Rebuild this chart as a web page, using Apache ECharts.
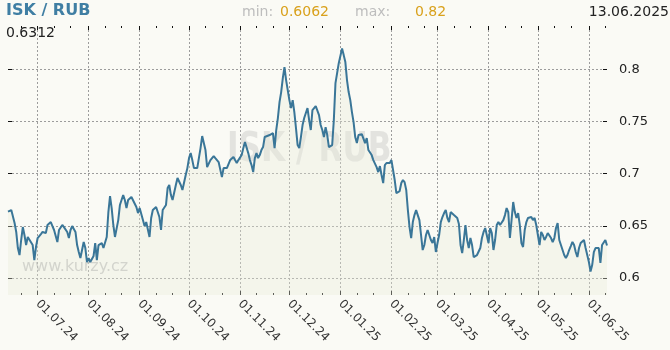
<!DOCTYPE html>
<html>
<head>
<meta charset="utf-8">
<script src="https://cdn.jsdelivr.net/npm/echarts@6/dist/echarts.min.js"></script>
<style>
html,body{margin:0;padding:0;background:#fafaf5;}
#chart{width:670px;height:350px;}
</style>
</head>
<body>
<div id="chart"></div>
<script>
// ---- data ----
const startDate = '2024-06-13';
const endDate = '2025-06-12';
const dayOffsets = [0,2,3,4,5,6,7,8,9,10,11,12,13,15,16,17,18,20,21,23,24,26,27,28,30,31,33,34,36,37,38,39,41,42,43,44,46,47,48,49,50,52,53,54,55,57,58,60,61,62,63,64,65,67,68,70,71,72,73,75,76,78,79,80,82,83,84,85,86,87,88,90,91,92,93,94,96,97,98,99,100,102,103,104,105,106,108,109,110,111,112,113,115,116,117,118,119,120,121,122,123,125,126,127,128,129,130,131,133,134,135,137,138,139,140,
142,143,144,145,146,147,148,149,150,151,152,153,154,155,156,157,159,160,161,162,163,164,165,166,167,168,169,170,171,172,173,174,175,176,177,178,179,180,181,182,183,184,185,186,187,188,189,190,191,192,193,194,195,196,197,198,199,200,
201,202,203,204,205,206,207,208,209,210,211,212,213,214,215,216,217,218,219,220,221,222,223,224,225,226,227,228,229,230,231,232,233,234,235,236,237,238,239,240,241,242,243,244,245,246,247,248,249,250,
251,252,253,254,255,256,257,258,259,260,261,262,263,264,265,266,267,268,269,270,271,272,273,274,275,276,277,278,279,280,281,282,283,284,285,286,287,288,289,290,291,292,293,294,295,296,297,298,299,300,
301,302,303,304,305,306,307,308,309,310,311,312,313,314,315,316,317,318,319,320,321,322,323,324,325,326,327,328,329,330,331,332,333,334,335,336,337,338,339,340,341,342,343,344,345,346,347,348,349,350,
351,352,353,354,355,356,357,358,359,360,361,362,363,364];
const rates = [0.6635,0.6651,0.6661,0.6527,0.6441,0.6287,0.6220,0.6364,0.6488,0.6412,0.6316,0.6393,0.6412,0.6316,0.6172,0.6297,0.6383,0.6421,0.6441,0.6431,0.6508,0.6536,0.6498,0.6460,0.6345,0.6460,0.6508,0.6488,0.6441,0.6383,0.6460,0.6498,0.6441,0.6316,0.6249,0.6191,0.6345,0.6287,0.6153,0.6191,0.6153,0.6211,0.6335,0.6172,0.6316,0.6335,0.6287,0.6393,0.6632,0.6785,0.6670,0.6508,0.6393,0.6555,0.6699,0.6795,0.6747,0.6670,0.6747,0.6776,0.6766,0.6680,0.6622,0.6670,0.6555,0.6498,0.6536,0.6555,0.6393,0.6575,0.6651,0.6680,0.6699,0.6584,0.6460,0.6651,0.6699,0.6862,0.6891,0.6795,0.6747,0.6891,0.6958,0.6939,0.6891,0.6843,0.6987,0.7053,0.7149,0.7197,0.7130,0.7053,0.7053,0.7149,0.7245,0.7360,0.7370,0.7226,0.7063,0.7082,0.7130,0.7169,0.7149,0.7130,0.7111,0.7102,0.6967,0.7053,0.7053,0.7063,0.7130,0.7159,0.7130,0.7102,0.7130,
0.7178,0.7245,0.7303,0.7293,0.7197,0.7130,0.7082,0.7015,0.7149,0.7197,0.7149,0.7178,0.7226,0.7255,0.7351,0.7370,0.7370,0.7379,0.7389,0.7245,0.7418,0.7533,0.7686,0.7782,0.7916,0.8021,0.7897,0.7916,0.7705,0.7628,0.7705,0.7590,0.7437,0.7274,0.7245,0.7351,0.7466,0.7533,0.7581,0.7628,0.7513,0.7418,0.7609,0.7628,0.7648,0.7657,0.7561,0.7466,0.7418,0.7351,0.7446,0.7370,0.7255,0.7274,0.7274,0.7513,0.7868,0.7964,
0.8059,0.8040,0.8200,0.8136,0.8069,0.7897,0.7782,0.7705,0.7590,0.7494,0.7351,0.7293,0.7370,0.7379,0.7379,0.7389,0.7293,0.7341,0.7226,0.7245,0.7178,0.7130,0.7111,0.7063,0.7015,0.7072,0.6987,0.6910,0.7082,0.7102,0.7111,0.7102,0.7130,0.7111,0.6939,0.6814,0.6824,0.6833,0.6910,0.6939,0.6919,0.6843,0.6651,0.6488,0.6383,0.6536,0.6603,0.6651,0.6632,0.6555,
0.6412,0.6268,0.6316,0.6412,0.6460,0.6412,0.6364,0.6335,0.6393,0.6249,0.6335,0.6412,0.6536,0.6584,0.6622,0.6651,0.6575,0.6536,0.6632,0.6613,0.6603,0.6594,0.6575,0.6517,0.6316,0.6239,0.6364,0.6508,0.6364,0.6287,0.6383,0.6316,0.6201,0.6220,0.6220,0.6230,0.6287,0.6383,0.6441,0.6479,0.6460,0.6335,0.6479,0.6431,0.6268,0.6364,0.6508,0.6536,0.6508,0.6498,
0.6555,0.6603,0.6670,0.6632,0.6383,0.6555,0.6728,0.6632,0.6575,0.6622,0.6508,0.6335,0.6297,0.6460,0.6536,0.6575,0.6594,0.6584,0.6555,0.6575,0.6508,0.6517,0.6316,0.6441,0.6412,0.6364,0.6393,0.6431,0.6441,0.6383,0.6345,0.6383,0.6479,0.6527,0.6364,0.6316,0.6268,0.6220,0.6191,0.6220,0.6268,0.6306,0.6345,0.6316,0.6249,0.6201,0.6287,0.6335,0.6345,0.6364,
0.6287,0.6220,0.6153,0.6062,0.6124,0.6249,0.6287,0.6297,0.6287,0.6144,0.6316,0.6316,0.6364,0.6312];
const monthTicks = ['2024-07-01','2024-08-01','2024-09-01','2024-10-01','2024-11-01','2024-12-01','2025-01-01','2025-02-01','2025-03-01','2025-04-01','2025-05-01','2025-06-01'];
const minorTicks = ['2024-06-21','2024-07-11','2024-07-21','2024-08-11','2024-08-21','2024-09-11','2024-09-21','2024-10-11','2024-10-21','2024-11-11','2024-11-21','2024-12-11','2024-12-21','2025-01-11','2025-01-21','2025-02-11','2025-02-21','2025-03-11','2025-03-21','2025-04-11','2025-04-21','2025-05-11','2025-05-21','2025-06-11'];
const yTicks = [0.6, 0.65, 0.7, 0.75, 0.8];
const pairName = 'ISK / RUB';
const lastValue = '0.6312';
const minValue = '0.6062';
const maxValue = '0.82';
const dateText = '13.06.2025';
const yMin = 0.5837, yMax = 0.8415;

// ---- helpers ----
function ts(s){const p=s.split('-').map(Number);return new Date(p[0],p[1]-1,p[2]).getTime();}
function dayTs(off){const p=startDate.split('-').map(Number);return new Date(p[0],p[1]-1,p[2]+off).getTime();}
function pad(n){return (n<10?'0':'')+n;}
function fmtDate(v){const d=new Date(v);return pad(d.getDate())+'.'+pad(d.getMonth()+1)+'.'+pad(d.getFullYear()%100);}

const seriesData = dayOffsets.map((d,i)=>[dayTs(d), rates[i]]);
const monthTs = monthTicks.map(ts);
const minorTs = minorTicks.map(ts);
const FONT = '"DejaVu Sans", "Noto Sans", sans-serif';
const grid = {left: 8, right: 63, top: 26, bottom: 55};

function xAx(pos, vals, len, labels, split){
  return {
    type: 'value', position: pos, min: ts(startDate), max: ts(endDate), scale: true,
    axisLine: {show: false},
    axisTick: {show: true, inside: true, length: len, customValues: vals, lineStyle: {color: '#111', width: 1}},
    axisLabel: labels ? {show: true, customValues: vals, rotate: -45, margin: 7, fontSize: 12, fontFamily: FONT, color: '#333', formatter: fmtDate} : {show: false, customValues: vals},
    splitLine: {show: !!split, lineStyle: {type: [2, 2], color: '#9c9c9c', width: 1}},
    minorTick: {show: false}
  };
}
function yAx(pos, labels){
  return {
    type: 'value', position: pos, min: yMin, max: yMax, scale: true,
    axisLine: {show: false},
    axisTick: {show: true, inside: true, length: 4, customValues: yTicks, lineStyle: {color: '#111', width: 1}},
    axisLabel: labels ? {show: true, customValues: yTicks, margin: 12, fontSize: 13, fontFamily: FONT, color: '#222',
      formatter: v => String(Math.round(v*100)/100)} : {show: false, customValues: yTicks},
    splitLine: {show: labels, lineStyle: {type: [2, 2], color: '#9c9c9c', width: 1}}
  };
}

const chart = echarts.init(document.getElementById('chart'), null, {renderer: 'canvas'});
chart.setOption({
  backgroundColor: '#fafaf5',
  animation: false,
  grid: grid,
  xAxis: [
    xAx('bottom', monthTs, 4, true, true),
    xAx('bottom', minorTs, 2, false, false),
    xAx('top', monthTs, 4, false, false),
    xAx('top', minorTs, 2, false, false)
  ],
  yAxis: [yAx('right', true), yAx('left', false)],
  graphic: [
    {type: 'text', x: 6, y: 11, z: 10, style: {text: pairName, font: 'bold 16px ' + FONT, fill: '#3f7ea3', align: 'left', verticalAlign: 'middle', textAlign: 'left', textVerticalAlign: 'middle'}},
    {type: 'text', x: 6, y: 33.5, z: 10, style: {text: lastValue, font: '14px ' + FONT, fill: '#222', align: 'left', verticalAlign: 'middle', textAlign: 'left', textVerticalAlign: 'middle'}},
    {type: 'text', x: 242, y: 12.5, z: 10, style: {text: 'min:', font: '14px ' + FONT, fill: '#bdbdbd', align: 'left', verticalAlign: 'middle', textAlign: 'left', textVerticalAlign: 'middle'}},
    {type: 'text', x: 280, y: 12.5, z: 10, style: {text: minValue, font: '14px ' + FONT, fill: '#d9a11c', align: 'left', verticalAlign: 'middle', textAlign: 'left', textVerticalAlign: 'middle'}},
    {type: 'text', x: 355, y: 12.5, z: 10, style: {text: 'max:', font: '14px ' + FONT, fill: '#bdbdbd', align: 'left', verticalAlign: 'middle', textAlign: 'left', textVerticalAlign: 'middle'}},
    {type: 'text', x: 415, y: 12.5, z: 10, style: {text: maxValue, font: '14px ' + FONT, fill: '#d9a11c', align: 'left', verticalAlign: 'middle', textAlign: 'left', textVerticalAlign: 'middle'}},
    {type: 'text', x: 669, y: 12.5, z: 10, style: {text: dateText, font: '14px ' + FONT, fill: '#222', align: 'right', verticalAlign: 'middle', textAlign: 'right', textVerticalAlign: 'middle'}},
    {type: 'text', x: 227, y: 151, scaleX: 0.78, z: 0, style: {text: pairName, font: 'bold 40px ' + FONT, fill: '#e3e3df', align: 'left', verticalAlign: 'middle', textAlign: 'left', textVerticalAlign: 'middle'}},
    {type: 'text', x: 22, y: 266.5, z: 0, style: {text: 'www.kurzy.cz', font: '16px ' + FONT, fill: '#c8c8c6', align: 'left', verticalAlign: 'middle', textAlign: 'left', textVerticalAlign: 'middle'}}
  ],
  series: [{
    type: 'line', xAxisIndex: 0, yAxisIndex: 0, data: seriesData,
    symbol: 'none', showSymbol: false, z: 5,
    lineStyle: {color: '#3a7698', width: 2},
    areaStyle: {color: 'rgba(232,234,218,0.5)', origin: 'start'}
  }]
});
</script>
</body>
</html>
